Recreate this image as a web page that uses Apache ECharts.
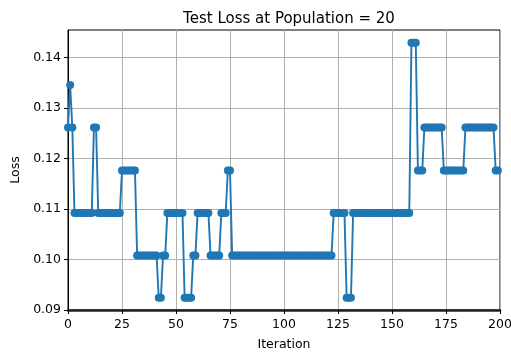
<!DOCTYPE html>
<html>
<head>
<meta charset="utf-8">
<script src="https://cdn.jsdelivr.net/npm/echarts@6/dist/echarts.min.js"></script>
<style>
  html, body { margin: 0; padding: 0; background: #fff; }
  #chart { width: 511px; height: 354px; }
</style>
</head>
<body>
<div id="chart"></div>
<script>
const titleText = 'Test Loss at Population = 20';
const xName = 'Iteration';
const yName = 'Loss';
const xTicks = [0, 25, 50, 75, 100, 125, 150, 175, 200];
const yTicks = [0.09, 0.10, 0.11, 0.12, 0.13, 0.14];
const lossValues = [
  0.1261,0.1345,0.1261,0.1092,0.1092,0.1092,0.1092,0.1092,0.1092,0.1092,
  0.1092,0.1092,0.1261,0.1261,0.1092,0.1092,0.1092,0.1092,0.1092,0.1092,
  0.1092,0.1092,0.1092,0.1092,0.1092,0.1176,0.1176,0.1176,0.1176,0.1176,
  0.1176,0.1176,0.1008,0.1008,0.1008,0.1008,0.1008,0.1008,0.1008,0.1008,
  0.1008,0.1008,0.0924,0.0924,0.1008,0.1008,0.1092,0.1092,0.1092,0.1092,
  0.1092,0.1092,0.1092,0.1092,0.0924,0.0924,0.0924,0.0924,0.1008,0.1008,
  0.1092,0.1092,0.1092,0.1092,0.1092,0.1092,0.1008,0.1008,0.1008,0.1008,
  0.1008,0.1092,0.1092,0.1092,0.1176,0.1176,0.1008,0.1008,0.1008,0.1008,
  0.1008,0.1008,0.1008,0.1008,0.1008,0.1008,0.1008,0.1008,0.1008,0.1008,
  0.1008,0.1008,0.1008,0.1008,0.1008,0.1008,0.1008,0.1008,0.1008,0.1008,
  0.1008,0.1008,0.1008,0.1008,0.1008,0.1008,0.1008,0.1008,0.1008,0.1008,
  0.1008,0.1008,0.1008,0.1008,0.1008,0.1008,0.1008,0.1008,0.1008,0.1008,
  0.1008,0.1008,0.1008,0.1092,0.1092,0.1092,0.1092,0.1092,0.1092,0.0924,
  0.0924,0.0924,0.1092,0.1092,0.1092,0.1092,0.1092,0.1092,0.1092,0.1092,
  0.1092,0.1092,0.1092,0.1092,0.1092,0.1092,0.1092,0.1092,0.1092,0.1092,
  0.1092,0.1092,0.1092,0.1092,0.1092,0.1092,0.1092,0.1092,0.1092,0.1429,
  0.1429,0.1429,0.1176,0.1176,0.1176,0.1261,0.1261,0.1261,0.1261,0.1261,
  0.1261,0.1261,0.1261,0.1261,0.1176,0.1176,0.1176,0.1176,0.1176,0.1176,
  0.1176,0.1176,0.1176,0.1176,0.1261,0.1261,0.1261,0.1261,0.1261,0.1261,
  0.1261,0.1261,0.1261,0.1261,0.1261,0.1261,0.1261,0.1261,0.1176,0.1176
];
const iterations = lossValues.map((_, i) => i);
const seriesData = iterations.map((it, i) => [it, lossValues[i]]);

const FONT = 'DejaVu Sans';
const chart = echarts.init(document.getElementById('chart'), null, { renderer: 'canvas' });
chart.setOption({
  animation: false,
  backgroundColor: '#ffffff',
  title: {
    text: titleText,
    left: 284,
    top: 7,
    textAlign: 'center',
    textStyle: { fontFamily: FONT, fontSize: 15, fontWeight: 'normal', color: '#000' }
  },
  grid: {
    left: 68, right: 11, top: 30, bottom: 44,
    containLabel: false,
    outerBoundsMode: 'none',
    show: true, borderColor: '#000', borderWidth: 1, backgroundColor: 'transparent'
  },
  xAxis: {
    type: 'value',
    min: 0, max: 200, interval: 25,
    name: xName, nameLocation: 'middle', nameGap: 28,
    nameTextStyle: { fontFamily: FONT, fontSize: 12.5, color: '#000' },
    axisLine: { show: true, lineStyle: { color: '#222', width: 2.5 } },
    axisTick: { show: true, length: 4, lineStyle: { color: '#000', width: 1 } },
    axisLabel: { fontFamily: FONT, fontSize: 12.5, color: '#000', margin: 8,
      customValues: xTicks },
    splitLine: { show: true, lineStyle: { color: '#b0b0b0', width: 1 } }
  },
  yAxis: {
    type: 'value',
    min: 0.09, max: 0.1454, interval: 0.01,
    name: yName, nameLocation: 'middle', nameGap: 46,
    nameTextStyle: { fontFamily: FONT, fontSize: 12.5, color: '#000' },
    axisLine: { show: true, lineStyle: { color: '#000', width: 1 } },
    axisTick: { show: true, length: 4, lineStyle: { color: '#000', width: 1 },
      customValues: yTicks },
    axisLabel: { fontFamily: FONT, fontSize: 12.5, color: '#000', margin: 7,
      customValues: yTicks, formatter: v => v.toFixed(2) },
    splitLine: { show: true, lineStyle: { color: '#b0b0b0', width: 1 } }
  },
  series: [{
    type: 'line',
    data: seriesData,
    symbol: 'circle',
    symbolSize: 8,
    showAllSymbol: true,
    clip: true,
    lineStyle: { color: '#1f77b4', width: 1.9 },
    itemStyle: { color: '#1f77b4', borderWidth: 0 }
  }]
});
</script>
</body>
</html>
